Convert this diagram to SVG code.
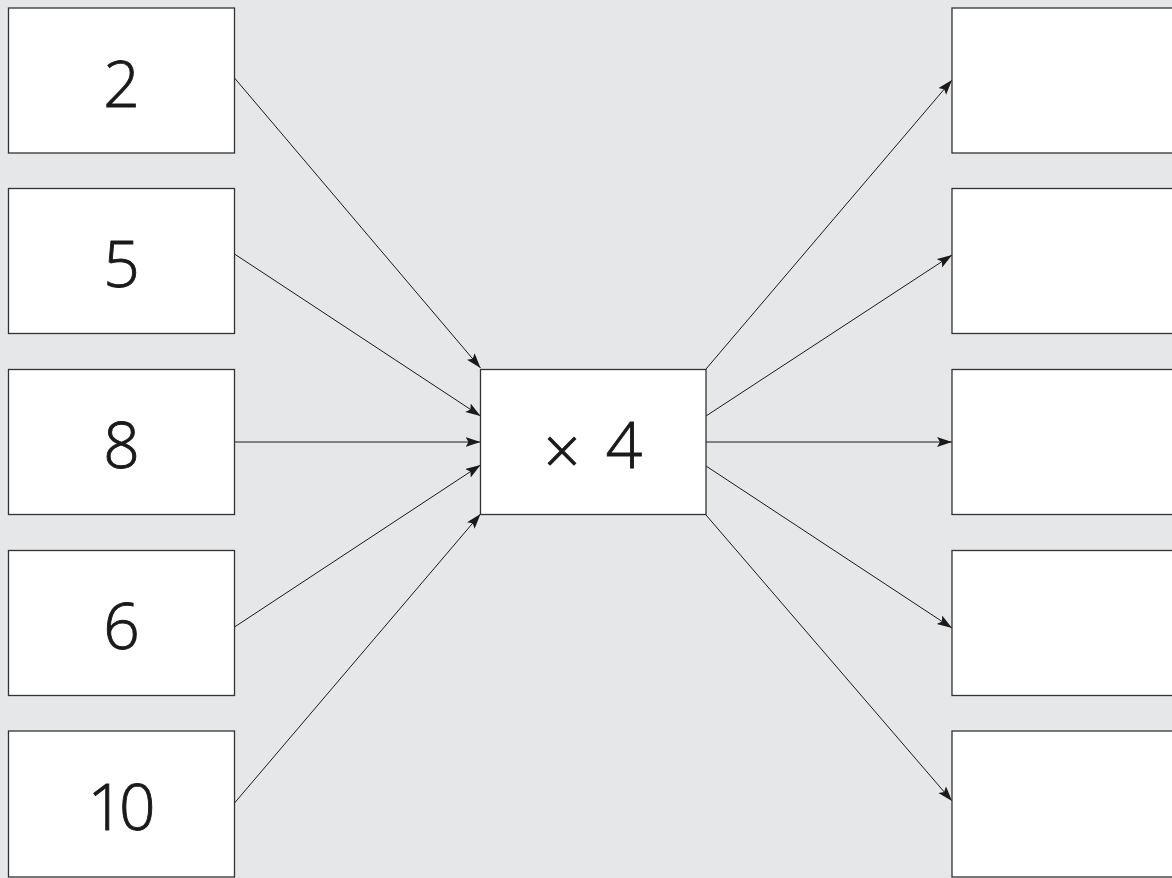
<svg xmlns="http://www.w3.org/2000/svg" width="1172" height="878" viewBox="0 0 1172 878">
  <defs>
    <marker id="arrow" markerUnits="userSpaceOnUse" markerWidth="16" markerHeight="12" refX="15" refY="5" orient="auto">
      <path d="M0,0 L15,5 L0,10 L3,5 Z" fill="#1a1a1a"/>
    </marker>
    <style>
      .box { fill: #ffffff; stroke: #333333; stroke-width: 1.3; }
      .num { font-family: "Open Sans", "DejaVu Sans", sans-serif; font-size: 64px; font-weight: 300; fill: #1a1a1a; stroke: #1a1a1a; stroke-width: 0.9; text-anchor: middle; }
      .link { stroke: #1a1a1a; stroke-width: 1; fill: none; marker-end: url(#arrow); }
    </style>
  </defs>

  <rect width="1172" height="878" fill="#e6e7e8"/>

  <!-- connectors: inputs to operator, operator to outputs -->
  <g id="connectors">
    <line class="link" x1="234.5" y1="78" x2="480.5" y2="368"/>
    <line class="link" x1="234.5" y1="254" x2="480.5" y2="416"/>
    <line class="link" x1="234.5" y1="442" x2="480.5" y2="442"/>
    <line class="link" x1="234.5" y1="627" x2="480.5" y2="465"/>
    <line class="link" x1="234.5" y1="803" x2="480.5" y2="514"/>

    <line class="link" x1="706" y1="369" x2="952" y2="80"/>
    <line class="link" x1="706" y1="416" x2="952" y2="255"/>
    <line class="link" x1="706" y1="442" x2="952" y2="442"/>
    <line class="link" x1="706" y1="466" x2="952" y2="628"/>
    <line class="link" x1="706" y1="515" x2="952" y2="801"/>
  </g>

  <!-- input values -->
  <g id="in-2">
    <rect class="box" x="8.5" y="8" width="226" height="145"/>
    <text class="num" x="121.5" y="107">2</text>
  </g>
  <g id="in-5">
    <rect class="box" x="8.5" y="188.5" width="226" height="145"/>
    <text class="num" x="121.5" y="287">5</text>
  </g>
  <g id="in-8">
    <rect class="box" x="8.5" y="369.5" width="226" height="145"/>
    <text class="num" x="121.5" y="468">8</text>
  </g>
  <g id="in-6">
    <rect class="box" x="8.5" y="550.5" width="226" height="145"/>
    <text class="num" x="121.5" y="649">6</text>
  </g>
  <g id="in-10">
    <rect class="box" x="8.5" y="731" width="226" height="146"/>
    <text class="num" x="119" y="830" letter-spacing="-5">10</text>
  </g>

  <!-- operator -->
  <g id="times-4">
    <rect class="box" x="480.5" y="369.5" width="225.5" height="145"/>
    <text class="num" x="562" y="474" font-size="80">×</text>
    <text class="num" x="624" y="468">4</text>
  </g>

  <!-- empty output boxes -->
  <g id="out-1">
    <rect class="box" x="952" y="8" width="230" height="145"/>
  </g>
  <g id="out-2">
    <rect class="box" x="952" y="188.5" width="230" height="145"/>
  </g>
  <g id="out-3">
    <rect class="box" x="952" y="369.5" width="230" height="145"/>
  </g>
  <g id="out-4">
    <rect class="box" x="952" y="550.5" width="230" height="145"/>
  </g>
  <g id="out-5">
    <rect class="box" x="952" y="731" width="230" height="146"/>
  </g>
</svg>
